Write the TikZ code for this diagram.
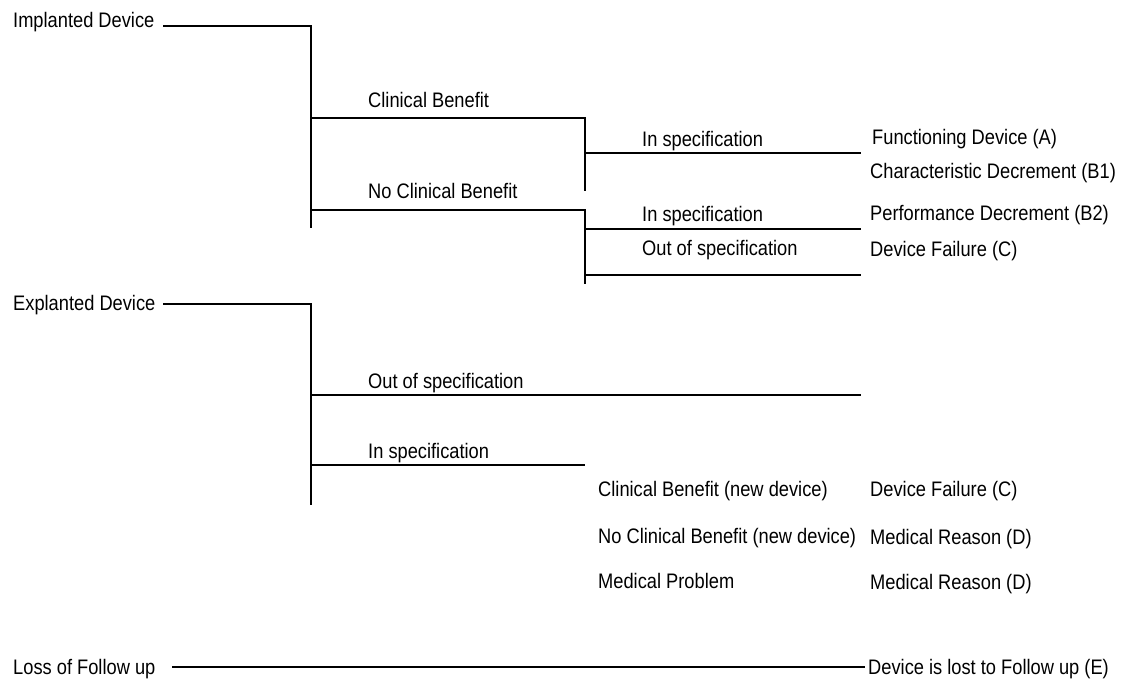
\documentclass[tikz,border=0pt]{standalone}
\usepackage{fontspec}
\setmainfont{Liberation Sans}[FakeStretch=0.87]
\begin{document}
\begin{tikzpicture}[x=1pt,y=-1pt,
  lbl/.style={anchor=west, inner sep=0pt, text height=15pt, text depth=0pt, font=\fontsize{21}{25}\selectfont},
  conn/.style={draw=black, line width=1.3pt}]
\useasboundingbox (0,0) rectangle (1132,685);
% Labels
\node[lbl] (imp) at (13,20) {Implanted Device};
\node[lbl] (cb) at (368,100) {Clinical Benefit};
\node[lbl] (ncb) at (368,191) {No Clinical Benefit};
\node[lbl] (is1) at (642,139) {In specification};
\node[lbl] (fda) at (872,137) {Functioning Device (A)};
\node[lbl] (cdb) at (870,171) {Characteristic Decrement (B1)};
\node[lbl] (is2) at (642,214) {In specification};
\node[lbl] (pdb) at (870,213) {Performance Decrement (B2)};
\node[lbl] (os1) at (642,248) {Out of specification};
\node[lbl] (dfc1) at (870,249) {Device Failure (C)};
\node[lbl] (exp) at (13,303) {Explanted Device};
\node[lbl] (os2) at (368,381) {Out of specification};
\node[lbl] (is3) at (368,451) {In specification};
\node[lbl] (cbn) at (598,489) {Clinical Benefit (new device)};
\node[lbl] (dfc2) at (870,489) {Device Failure (C)};
\node[lbl] (ncbn) at (598,536) {No Clinical Benefit (new device)};
\node[lbl] (mrd1) at (870,537) {Medical Reason (D)};
\node[lbl] (mp) at (598,581) {Medical Problem};
\node[lbl] (mrd2) at (870,582) {Medical Reason (D)};
\node[lbl] (loss) at (13,667) {Loss of Follow up};
\node[lbl] (lost) at (868,667) {Device is lost to Follow up (E)};
% Junction coordinates
\coordinate (a0) at (163,26);
\coordinate (a1) at (311,26);
\coordinate (a2) at (311,228);
\coordinate (b1) at (311,118);
\coordinate (b2) at (585,118);
\coordinate (b3) at (585,191);
\coordinate (b4) at (585,153);
\coordinate (b5) at (861,153);
\coordinate (c1) at (311,210);
\coordinate (c2) at (585,210);
\coordinate (c3) at (585,284);
\coordinate (c4) at (585,229);
\coordinate (c5) at (861,229);
\coordinate (c6) at (585,275);
\coordinate (c7) at (861,275);
\coordinate (e0) at (163,304);
\coordinate (e1) at (311,304);
\coordinate (e2) at (311,505);
\coordinate (f1) at (311,395);
\coordinate (f2) at (861,395);
\coordinate (g1) at (311,465);
\coordinate (g2) at (585,465);
\coordinate (l0) at (172,667);
\coordinate (l1) at (865,667);
% Connectors
\draw[conn] (a0) -- (a1) -- (a2);
\draw[conn] (b1) -- (b2) -- (b3);
\draw[conn] (b4) -- (b5);
\draw[conn] (c1) -- (c2) -- (c3);
\draw[conn] (c4) -- (c5);
\draw[conn] (c6) -- (c7);
\draw[conn] (e0) -- (e1) -- (e2);
\draw[conn] (f1) -- (f2);
\draw[conn] (g1) -- (g2);
\draw[conn] (l0) -- (l1);
\end{tikzpicture}
\end{document}
